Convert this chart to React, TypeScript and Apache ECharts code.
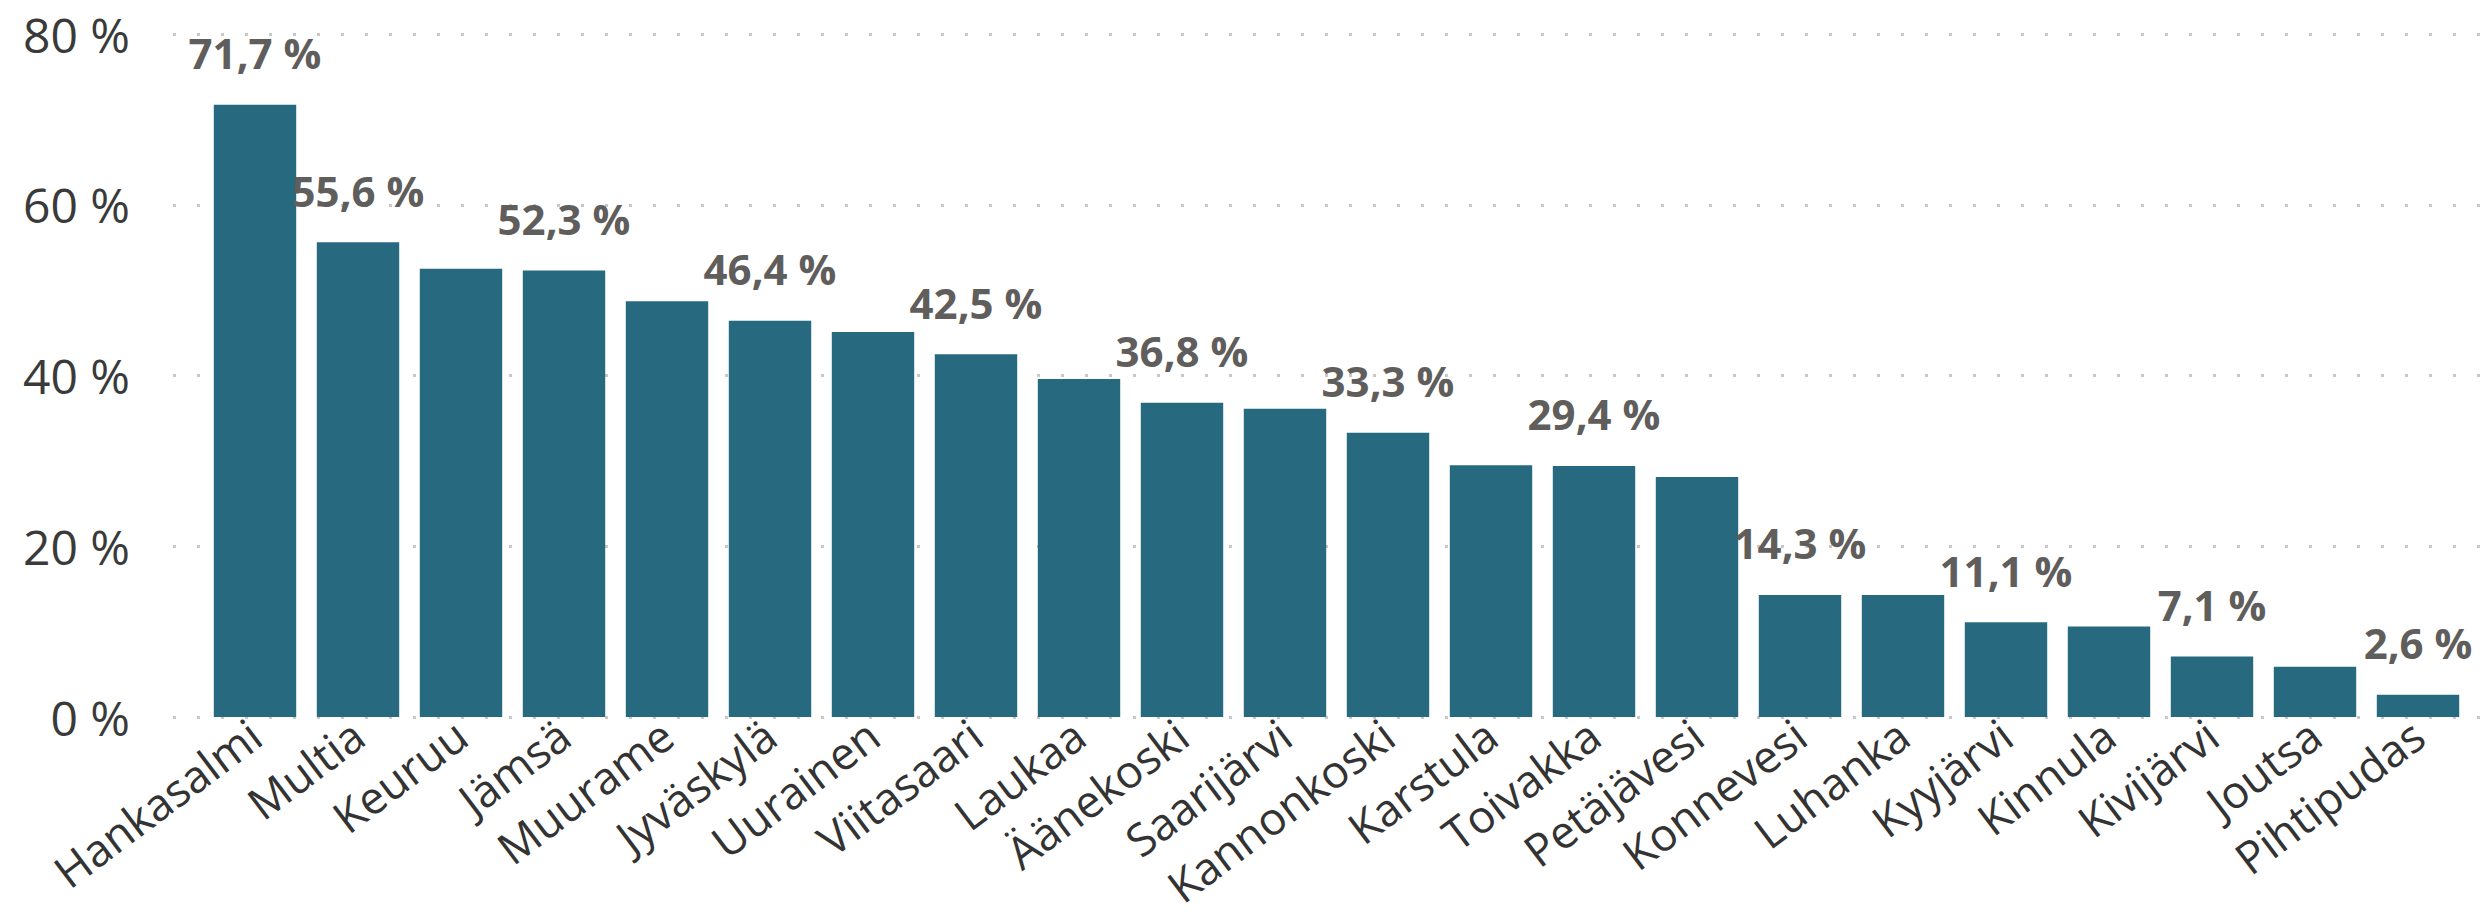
import React, { useEffect, useRef } from "react";
import * as echarts from "echarts";

const categories = [
  "Hankasalmi", "Multia", "Keuruu", "Jämsä", "Muurame", "Jyväskylä", "Uurainen",
  "Viitasaari", "Laukaa", "Äänekoski", "Saarijärvi", "Kannonkoski", "Karstula",
  "Toivakka", "Petäjävesi", "Konnevesi", "Luhanka", "Kyyjärvi", "Kinnula",
  "Kivijärvi", "Joutsa", "Pihtipudas",
];
const values = [
  71.7, 55.6, 52.5, 52.3, 48.7, 46.4, 45.1, 42.5, 39.6, 36.8, 36.1, 33.3, 29.5,
  29.4, 28.1, 14.3, 14.3, 11.1, 10.6, 7.1, 5.9, 2.6,
];
const labelShown = [
  true, true, false, true, false, true, false, true, false, true, false, true, false,
  true, false, true, false, true, false, true, false, true,
];
const yTicks = [0, 20, 40, 60, 80];

const FONT = "'Segoe UI', 'Open Sans', 'Noto Sans', sans-serif";
const fmt = (v: number) => v.toFixed(1).replace(".", ",") + " %";

export default function App() {
  const ref = useRef<HTMLDivElement>(null);
  useEffect(() => {
    document.body.style.margin = "0";
    if (!ref.current) return;
    const chart = echarts.init(ref.current, undefined, { renderer: "svg" });
    const yMin = yTicks[0];
    const yMax = yTicks[yTicks.length - 1];
    const yStep = yTicks[1] - yTicks[0];
    chart.setOption({
      animation: false,
      backgroundColor: "#ffffff",
      grid: [
        { left: 173, right: 3, top: 34, bottom: 203, containLabel: false },
        { left: 203.5, right: 15.5, top: 34, bottom: 203, containLabel: false },
      ],
      xAxis: [
        { type: "category", gridIndex: 0, data: categories, show: false },
        {
          type: "category",
          gridIndex: 1,
          data: categories,
          boundaryGap: true,
          axisLine: { show: false },
          axisTick: { show: false },
          axisLabel: {
            rotate: 37,
            interval: 0,
            margin: 12,
            fontSize: 45,
            fontFamily: FONT,
            color: "#333333",
          },
        },
      ],
      yAxis: [
        {
          type: "value",
          gridIndex: 0,
          min: yMin,
          max: yMax,
          interval: yStep,
          axisLine: { show: false },
          axisTick: { show: false },
          axisLabel: {
            formatter: (v: number) => v + " %",
            margin: 43,
            fontSize: 48,
            fontFamily: FONT,
            color: "#3a3a3a",
          },
          splitLine: {
            show: true,
            lineStyle: { color: "#c8c8c8", width: 3, type: [3, 21] },
          },
        },
        {
          type: "value",
          gridIndex: 1,
          min: yMin,
          max: yMax,
          interval: yStep,
          show: false,
          splitLine: { show: false },
        },
      ],
      series: [
        {
          type: "bar",
          xAxisIndex: 1,
          yAxisIndex: 1,
          barCategoryGap: "20%",
          itemStyle: { color: "#276A80" },
          z: 3,
          data: values.map((v, i) => ({
            value: v,
            label: {
              show: labelShown[i],
              position: "top",
              distance: 31,
              formatter: fmt(v),
              fontSize: 42,
              fontWeight: "bold",
              fontFamily: FONT,
              color: "#605E5C",
            },
          })),
        },
      ],
    });
    return () => chart.dispose();
  }, []);
  return <div ref={ref} style={{ width: 2485, height: 920 }} />;
}
